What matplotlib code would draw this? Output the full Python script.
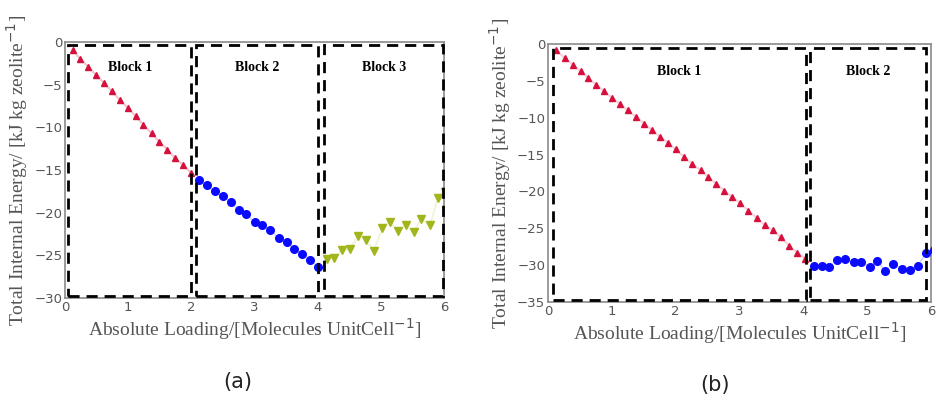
import matplotlib.pyplot as plt
from matplotlib.patches import Rectangle

# ---- panel (a) data ----
a_x1 = [0.12, 0.24, 0.37, 0.49, 0.62, 0.74, 0.87, 0.99, 1.12, 1.24, 1.37, 1.49, 1.62, 1.74, 1.87, 1.99]
a_y1 = [-0.9, -2.0, -2.9, -3.9, -4.8, -5.8, -6.8, -7.7, -8.7, -9.7, -10.7, -11.7, -12.6, -13.6, -14.4, -15.3]
a_x2 = [2.12, 2.25, 2.37, 2.50, 2.63, 2.75, 2.87, 3.00, 3.12, 3.25, 3.38, 3.51, 3.63, 3.75, 3.88, 4.01]
a_y2 = [-16.2, -16.8, -17.5, -18.1, -18.7, -19.7, -20.2, -21.1, -21.5, -22.0, -23.0, -23.4, -24.2, -24.9, -25.5, -26.4]
a_x3 = [4.14, 4.26, 4.39, 4.51, 4.64, 4.76, 4.89, 5.02, 5.14, 5.27, 5.40, 5.52, 5.64, 5.78, 5.90, 6.01]
a_y3 = [-25.4, -25.3, -24.4, -24.3, -22.7, -23.2, -24.5, -21.8, -21.1, -22.2, -21.4, -22.3, -20.7, -21.5, -18.3, -17.6]

# ---- panel (b) data ----
b_x1 = [0.13, 0.26, 0.39, 0.51, 0.63, 0.75, 0.88, 1.00, 1.13, 1.25, 1.38, 1.51, 1.63, 1.76, 1.88, 2.00,
        2.13, 2.26, 2.39, 2.51, 2.64, 2.76, 2.89, 3.01, 3.14, 3.27, 3.40, 3.52, 3.65, 3.78, 3.90, 4.03]
b_y1 = [-0.8, -1.9, -2.8, -3.7, -4.6, -5.5, -6.4, -7.3, -8.1, -9.0, -9.9, -10.8, -11.7, -12.6, -13.4, -14.3,
        -15.3, -16.3, -17.1, -18.0, -19.0, -19.9, -20.8, -21.6, -22.6, -23.6, -24.6, -25.3, -26.2, -27.4, -28.3, -29.1]
b_x2 = [4.17, 4.29, 4.40, 4.53, 4.66, 4.79, 4.91, 5.04, 5.16, 5.28, 5.41, 5.54, 5.67, 5.79, 5.92, 6.04]
b_y2 = [-30.1, -30.1, -30.2, -29.3, -29.1, -29.6, -29.6, -30.2, -29.4, -30.8, -29.8, -30.5, -30.6, -30.1, -28.4, -28.0]

# block boxes: (x0, x1, label)
a_blocks = [(0.05, 2.0, "Block 1"), (2.07, 4.01, "Block 2"), (4.10, 5.99, "Block 3")]
b_blocks = [(0.08, 4.04, "Block 1"), (4.10, 5.92, "Block 2")]

red = "#d6103c"
blue = "#0a0aff"
olive = "#a2b51c"
serif = ["Liberation Serif", "DejaVu Serif"]

fig = plt.figure(figsize=(9.37, 4.0), dpi=100)
fig.patch.set_facecolor("white")
ax1 = fig.add_axes([0.0694, 0.255, 0.4045, 0.64])
ax2 = fig.add_axes([0.5848, 0.245, 0.4088, 0.645])


def style(ax, ylo):
    ax.set_xlim(0, 6)
    ax.set_ylim(ylo, 0)
    for s in ax.spines.values():
        s.set_color("#8a8a8a")
        s.set_linewidth(1.2)
    ax.tick_params(length=0, pad=2, labelsize=9.5, colors="#555555")
    ax.set_xticks(range(0, 7))
    ax.set_ylabel("Total Internal Energy/ [kJ kg zeolite$^{-1}$]", family=serif,
                  fontsize=14, color="#555555", labelpad=3)
    ax.set_xlabel("Absolute Loading/[Molecules UnitCell$^{-1}$]", family=serif,
                  fontsize=14, color="#555555", labelpad=2)


def boxes(ax, blocks, top, bottom, label_y):
    for x0, x1, name in blocks:
        ax.add_patch(Rectangle((x0, bottom), x1 - x0, top - bottom, fill=False,
                               edgecolor="black", linewidth=2, linestyle=(0, (4, 2.5)),
                               clip_on=False, zorder=4))
        ax.text((x0 + x1) / 2, label_y, name, ha="center", va="center",
                family=serif, fontweight="bold", fontsize=10, zorder=5)


# panel (a)
style(ax1, -30)
ax1.plot(a_x1, a_y1, color=red, alpha=0.25, lw=1.5, zorder=2)
ax1.plot(a_x1, a_y1, "^", color=red, ms=5, ls="none", zorder=3)
ax1.plot(a_x2, a_y2, color=blue, alpha=0.12, lw=1.5, zorder=2)
ax1.plot(a_x2, a_y2, "o", color=blue, ms=5.5, ls="none", zorder=3)
ax1.plot(a_x3, a_y3, color=olive, alpha=0.15, lw=1.5, zorder=2)
ax1.plot(a_x3, a_y3, "v", color=olive, ms=5.5, ls="none", zorder=3)
boxes(ax1, a_blocks, -0.35, -29.75, -3.0)

# panel (b)
style(ax2, -35)
ax2.plot(b_x1, b_y1, color=red, alpha=0.2, lw=1.5, zorder=2)
ax2.plot(b_x1, b_y1, "^", color=red, ms=5, ls="none", zorder=3)
ax2.plot(b_x2, b_y2, color=blue, alpha=0.2, lw=1, ls="--", zorder=2)
ax2.plot(b_x2, b_y2, "o", color=blue, ms=5.5, ls="none", zorder=3)
boxes(ax2, b_blocks, -0.6, -34.7, -3.7)

fig.text(0.2535, 0.045, "(a)", ha="center", va="center", fontsize=15, color="#222222")
fig.text(0.763, 0.037, "(b)", ha="center", va="center", fontsize=15, color="#222222")

fig.savefig("out.png", dpi=100)
